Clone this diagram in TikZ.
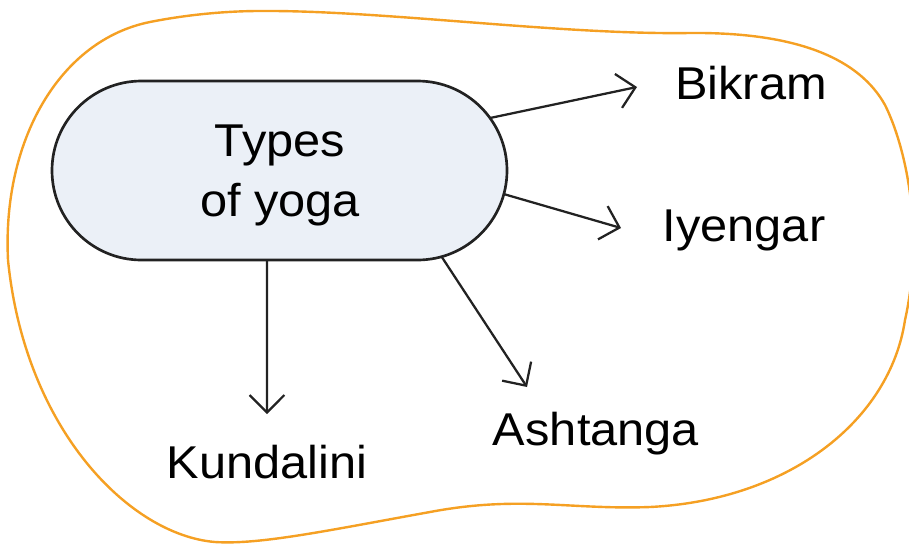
\documentclass[tikz,border=0pt]{standalone}
\usepackage{fontspec}
\setmainfont[FakeStretch=1.06]{Liberation Sans}
\usetikzlibrary{arrows.meta,shapes.misc}
\definecolor{blobline}{HTML}{F5A023}
\definecolor{pillfill}{HTML}{EBF0F7}
\definecolor{ink}{HTML}{222222}
\tikzset{
  pill/.style={rounded rectangle, draw=ink, fill=pillfill, line width=2pt,
    minimum width=455*0.75pt, minimum height=179*0.75pt, inner sep=0pt, outer sep=0pt},
  lbl/.style={font=\fontsize{34.5}{45}\selectfont, text=black, inner sep=0pt},
  link/.style={draw=ink, line width=1.7pt,
    -{Straight Barb[length=13pt,width=26pt,line width=1.7pt]}},
  blob/.style={draw=blobline, line width=1.8pt}
}
\begin{document}
\begin{tikzpicture}[x=0.75pt,y=-0.75pt]
\useasboundingbox (0,0) rectangle (909,543);
\clip (0,0) rectangle (909,543);

% free-form outline around the whole map
\draw[blob] (260,11)
  .. controls (380,10) and (560,35) .. (690,33)
  .. controls (800,32) and (860,60) .. (885,105)
  .. controls (905,145) and (925,230) .. (905,320)
  .. controls (890,420) and (790,500) .. (650,507)
  .. controls (570,510) and (520,495) .. (430,512)
  .. controls (330,530) and (260,545) .. (215,542)
  .. controls (130,535) and (25,430) .. (8,260)
  .. controls (2,140) and (60,40) .. (150,22)
  .. controls (190,14) and (230,11) .. (260,11) -- cycle;

% central topic
\node[pill] (types) at (279.5,170.5) {};
\node[lbl, align=center] (typestxt) at (280,175) {Types\\of yoga};

% branch labels
\node[lbl, anchor=base] (bikram) at (751,99) {Bikram};
\node[lbl, anchor=base] (iyengar) at (744,241) {Iyengar};
\node[lbl, anchor=base] (ashtanga) at (596,445) {Ashtanga};
\node[lbl, anchor=base] (kundalini) at (267,478) {Kundalini};

% arrow tips in front of each label
\coordinate (tipB) at (637,87);
\coordinate (tipI) at (621,228);
\coordinate (tipA) at (527,387);
\coordinate (tipK) at (267,414);

\draw[link] (types.14.5) -- (tipB);
\draw[link] (types.-6.2) -- (tipI);
\draw[link] (types.-28.6) -- (tipA);
\draw[link] (types.-98) -- (tipK);
\end{tikzpicture}
\end{document}
